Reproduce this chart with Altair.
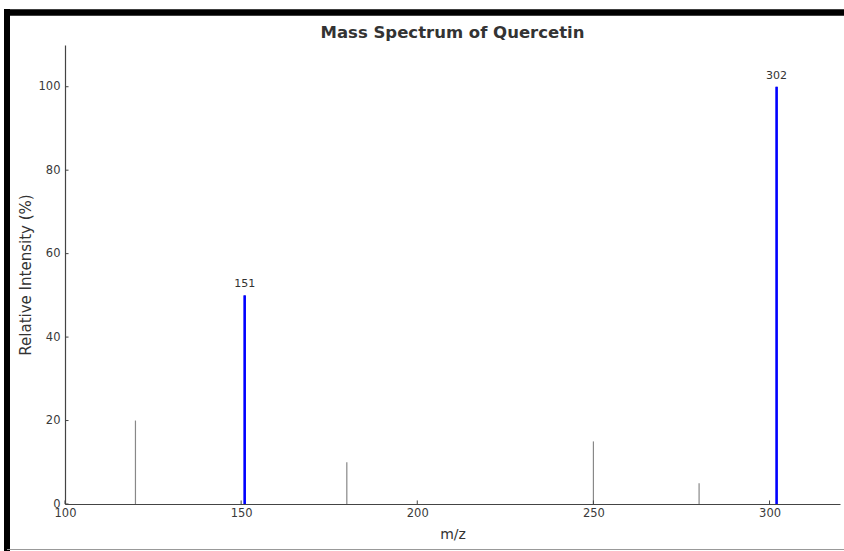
import altair as alt
import pandas as pd

# ---- data ----
mz = [120, 151, 180, 250, 280, 302]
intensity = [20, 50, 10, 15, 5, 100]
major_mz = [151, 302]
major_intensity = [50, 100]
major_labels = ["151", "302"]
x_ticks = [100, 150, 200, 250, 300]
y_ticks = [0, 20, 40, 60, 80, 100]
x_domain = [100, 320]
y_domain = [0, 110]
title_text = "Mass Spectrum of Quercetin"

FONT = "DejaVu Sans"

peaks = pd.DataFrame({"mz": mz, "intensity": intensity, "base": [0] * len(mz)})
major = pd.DataFrame({"mz": major_mz, "intensity": major_intensity,
                      "label": major_labels, "base": [0] * len(major_mz)})
xt = pd.DataFrame({"mz": x_ticks, "y0": [0] * len(x_ticks), "y1": [0.85] * len(x_ticks)})
yt = pd.DataFrame({"v": y_ticks, "x0": [100] * len(y_ticks), "x1": [101] * len(y_ticks)})
tdf = pd.DataFrame({"t": [title_text]})

xs = alt.Scale(domain=x_domain, nice=False, zero=False)
ys = alt.Scale(domain=y_domain, nice=False)

x_axis = alt.Axis(values=x_ticks, title="m/z", labelFlush=False, labelPadding=3,
                  titlePadding=9, format="d", titleFontSize=14)
y_axis = alt.Axis(values=y_ticks, title="Relative Intensity (%)", labelPadding=5,
                  titlePadding=5, format="d", titleFontSize=15)

grey = alt.Chart(peaks).mark_rule(color="#888888", strokeWidth=1.2).encode(
    x=alt.X("mz:Q", scale=xs, axis=x_axis),
    y=alt.Y("intensity:Q", scale=ys, axis=y_axis),
    y2="base:Q",
)

blue = alt.Chart(major).mark_rule(color="#0000ff", strokeWidth=2.6).encode(
    x=alt.X("mz:Q", scale=xs),
    y=alt.Y("intensity:Q", scale=ys),
    y2="base:Q",
)

labels = alt.Chart(major).mark_text(
    baseline="bottom", dy=-6, fontSize=11, font=FONT, color="#333333"
).encode(
    x=alt.X("mz:Q", scale=xs),
    y=alt.Y("intensity:Q", scale=ys),
    text="label:N",
)

xticks = alt.Chart(xt).mark_rule(color="#444444", strokeWidth=1).encode(
    x=alt.X("mz:Q", scale=xs), y=alt.Y("y0:Q", scale=ys), y2="y1:Q"
)
yticks = alt.Chart(yt).mark_rule(color="#444444", strokeWidth=1).encode(
    y=alt.Y("v:Q", scale=ys), x=alt.X("x0:Q", scale=xs), x2="x1:Q"
)

title = alt.Chart(tdf).mark_text(
    font=FONT, fontSize=16.5, fontWeight="bold", color="#333333",
    align="center", baseline="alphabetic",
).encode(x=alt.value(387.5), y=alt.value(-7.5), text="t:N")

# decorative black frame of the screenshot
frame_top = alt.Chart(tdf).mark_rule(color="black", strokeWidth=6.5).encode(
    x=alt.value(-61), x2=alt.value(779), y=alt.value(-32.5)
)
frame_left = alt.Chart(tdf).mark_rule(color="black", strokeWidth=6).encode(
    x=alt.value(-58), y=alt.value(-36), y2=alt.value(506)
)
frame_bottom = alt.Chart(tdf).mark_rule(color="#999999", strokeWidth=1).encode(
    x=alt.value(-58), x2=alt.value(779), y=alt.value(504.5)
)

chart = alt.layer(
    grey, blue, labels, xticks, yticks, title, frame_top, frame_left, frame_bottom
).properties(
    width=775,
    height=459,
    autosize=alt.AutoSizeParams(type="none"),
    padding={"left": 65, "top": 45, "right": 4, "bottom": 47},
    background="white",
).configure_view(stroke=None).configure_axis(
    grid=False, ticks=False, domainColor="#444444", domainWidth=1.2,
    labelFont=FONT, labelFontSize=11.5, labelColor="#3a3a3a",
    titleFont=FONT, titleFontWeight="normal", titleColor="#333333",
)

chart.save("out.html", embed_options={"renderer": "svg", "actions": False})
